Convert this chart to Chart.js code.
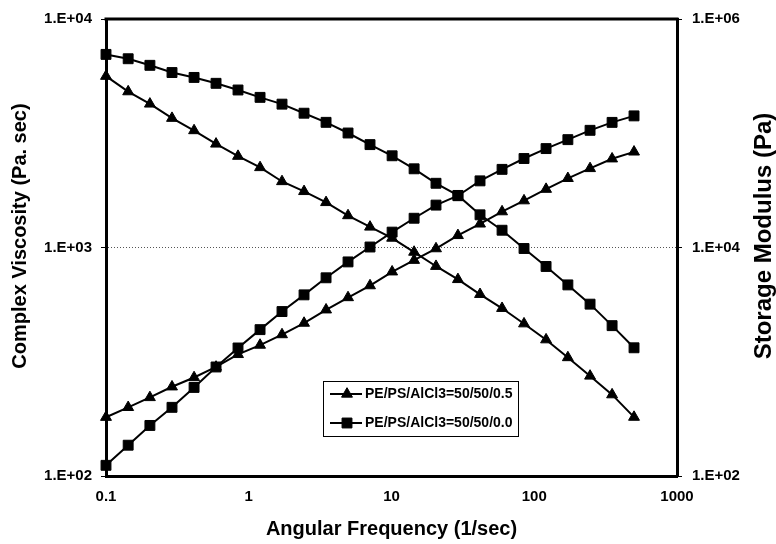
<!DOCTYPE html>
<html><head><meta charset="utf-8">
<script src="https://cdn.jsdelivr.net/npm/chart.js@4.4.0/dist/chart.umd.min.js"></script>
<style>html,body{margin:0;padding:0;background:#fff}#wrap{width:776px;height:544px}</style>
</head><body><div id="wrap"><canvas id="c" width="776" height="544"></canvas></div>
<script>
// Angular frequency (1/sec)
const frequency = [0.1, 0.143, 0.203, 0.29, 0.414, 0.59, 0.841, 1.2, 1.71, 2.44, 3.48, 4.96, 7.07, 10.1, 14.4, 20.5, 29.2, 41.7, 59.5, 84.8, 121, 172, 246, 351, 500];
// Complex viscosity (Pa. sec) - left axis
const viscosity00 = [7000, 6700, 6270, 5830, 5550, 5230, 4890, 4540, 4240, 3870, 3530, 3170, 2820, 2520, 2210, 1910, 1690, 1390, 1190, 990, 826, 686, 565, 455, 364];
const viscosity05 = [5620, 4810, 4250, 3680, 3250, 2840, 2510, 2240, 1945, 1760, 1575, 1380, 1230, 1100, 955, 828, 725, 624, 542, 464, 395, 330, 274, 227, 181];
// Storage modulus (Pa) - right axis
const modulus00 = [124, 186, 277, 399, 596, 900, 1320, 1910, 2750, 3850, 5430, 7480, 10100, 13630, 18030, 23500, 28400, 38300, 48300, 60100, 73400, 87900, 106100, 124500, 141900];
const modulus05 = [327, 399, 487, 604, 728, 900, 1160, 1400, 1730, 2180, 2850, 3650, 4640, 6130, 7740, 9780, 12760, 16100, 20600, 25700, 32400, 40300, 49200, 59800, 68700];

const xTicks = [0.1, 1, 10, 100, 1000];
const xTickLabels = ['0.1', '1', '10', '100', '1000'];
const leftTicks = [100, 1000, 10000];
const leftTickLabels = ['1.E+02', '1.E+03', '1.E+04'];
const rightTicks = [100, 10000, 1000000];
const rightTickLabels = ['1.E+02', '1.E+04', '1.E+06'];
const legendLabels = ['PE/PS/AlCl3=50/50/0.5', 'PE/PS/AlCl3=50/50/0.0'];
const xTitle = 'Angular Frequency (1/sec)';
const leftTitle = 'Complex Viscosity (Pa. sec)';
const rightTitle = 'Storage Modulus (Pa)';

const FONT = "'Liberation Sans', Arial, sans-serif";
const pairs = (ys) => frequency.map((x, i) => ({x: x, y: ys[i]}));

function series(label, ys, style, axis) {
  return {
    label: label, data: pairs(ys), yAxisID: axis,
    borderColor: '#000', backgroundColor: '#000', borderWidth: 2,
    pointStyle: style, pointRadius: style === 'rect' ? 7 : 6.3,
    pointBackgroundColor: '#000', pointBorderColor: '#000', pointBorderWidth: 1,
    tension: 0, fill: false, clip: false
  };
}

const framePlugin = {
  id: 'frame',
  afterDatasetsDraw(chart) {
    const ctx = chart.ctx, a = chart.chartArea;
    ctx.save();
    ctx.strokeStyle = '#000';
    ctx.lineWidth = 3;
    ctx.beginPath();
    ctx.moveTo(a.left - 1.5, a.top);
    ctx.lineTo(a.right + 1.5, a.top);
    ctx.stroke();
    // legend box
    const x0 = a.left + 217, y0 = a.top + 362, w = 195, h = 55;
    ctx.fillStyle = '#fff';
    ctx.fillRect(x0, y0, w, h);
    ctx.lineWidth = 1;
    ctx.strokeRect(x0 + 0.5, y0 + 0.5, w, h);
    const styles = ['triangle', 'rect'];
    ctx.font = 'bold 14px ' + FONT;
    ctx.textBaseline = 'middle';
    ctx.textAlign = 'left';
    legendLabels.forEach((t, i) => {
      const cy = y0 + 13 + i * 29;
      ctx.strokeStyle = '#000';
      ctx.lineWidth = 2;
      ctx.beginPath();
      ctx.moveTo(x0 + 7, cy);
      ctx.lineTo(x0 + 39, cy);
      ctx.stroke();
      ctx.fillStyle = '#000';
      ctx.lineWidth = 1;
      Chart.helpers.drawPoint(ctx, {pointStyle: styles[i], radius: styles[i] === 'rect' ? 7 : 6.3, rotation: 0, borderWidth: 1}, x0 + 24, cy);
      ctx.fillStyle = '#000';
      ctx.fillText(t, x0 + 42, cy);
    });
    ctx.restore();
  },
  afterDraw(chart) {
    // vertical axis titles (both read bottom-to-top as in the reference)
    const ctx = chart.ctx, a = chart.chartArea;
    const cy = a.top + 217;
    ctx.save();
    ctx.fillStyle = '#000';
    ctx.font = 'bold 20px ' + FONT;
    ctx.textAlign = 'center';
    ctx.textBaseline = 'middle';
    ctx.translate(20, cy);
    ctx.rotate(-Math.PI / 2);
    ctx.fillText(leftTitle, 0, 0);
    ctx.restore();
    ctx.save();
    ctx.fillStyle = '#000';
    ctx.font = 'bold 24px ' + FONT;
    ctx.textAlign = 'center';
    ctx.textBaseline = 'middle';
    ctx.translate(a.right + 87, cy);
    ctx.rotate(-Math.PI / 2);
    ctx.fillText(rightTitle, 0, 0);
    ctx.restore();
  }
};

new Chart(document.getElementById('c'), {
  type: 'line',
  data: {
    datasets: [
      series(legendLabels[0], viscosity05, 'triangle', 'y'),
      series(legendLabels[1], viscosity00, 'rect', 'y'),
      series(legendLabels[0] + ' G\'', modulus05, 'triangle', 'y1'),
      series(legendLabels[1] + ' G\'', modulus00, 'rect', 'y1')
    ]
  },
  options: {
    responsive: false,
    animation: false,
    devicePixelRatio: 1,
    layout: {padding: {top: 15, left: 0, right: 0, bottom: 0}},
    plugins: {legend: {display: false}, tooltip: {enabled: false}},
    scales: {
      x: {
        type: 'logarithmic', position: 'bottom', min: 0.1, max: 1000,
        afterBuildTicks: (s) => { s.ticks = xTicks.map(v => ({value: v})); },
        afterFit: (s) => { s.height = 68; },
        ticks: {
          autoSkip: false, maxRotation: 0, padding: 6, color: '#000',
          font: {family: FONT, size: 15, weight: 'bold'},
          callback: (v, i) => xTickLabels[i]
        },
        grid: {drawOnChartArea: false, drawTicks: true, tickLength: 6, tickColor: 'rgba(0,0,0,0)'},
        border: {display: true, width: 3, color: '#000'},
        title: {display: true, text: xTitle, color: '#000', padding: {top: 0, bottom: 5},
          font: {family: FONT, size: 20, weight: 'bold', lineHeight: 1}}
      },
      y: {
        type: 'logarithmic', position: 'left', min: 100, max: 10000,
        afterBuildTicks: (s) => { s.ticks = leftTicks.map(v => ({value: v})); },
        afterFit: (s) => { s.width = 106; },
        ticks: {
          autoSkip: false, padding: 9, color: '#000',
          font: {family: FONT, size: 15, weight: 'bold'},
          callback: (v, i) => leftTickLabels[i]
        },
        grid: {
          drawOnChartArea: true, drawTicks: true, tickLength: 5, tickColor: '#000', lineWidth: 1,
          color: (c) => (c.tick && c.tick.value === 1000) ? '#555' : 'rgba(0,0,0,0)'
        },
        border: {display: true, width: 3, color: '#000', dash: [1, 2]},
        title: {display: false, text: leftTitle}
      },
      y1: {
        type: 'logarithmic', position: 'right', min: 100, max: 1000000,
        afterBuildTicks: (s) => { s.ticks = rightTicks.map(v => ({value: v})); },
        afterFit: (s) => { s.width = 99; },
        ticks: {
          autoSkip: false, padding: 10, color: '#000',
          font: {family: FONT, size: 15, weight: 'bold'},
          callback: (v, i) => rightTickLabels[i]
        },
        grid: {drawOnChartArea: false, drawTicks: true, tickLength: 5, tickColor: '#000'},
        border: {display: true, width: 3, color: '#000'},
        title: {display: false, text: rightTitle}
      }
    }
  },
  plugins: [framePlugin]
});
</script>
</body></html>
